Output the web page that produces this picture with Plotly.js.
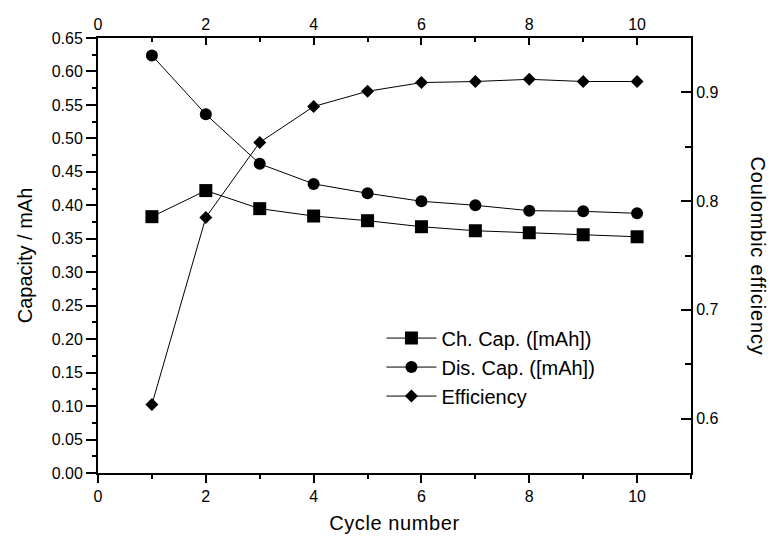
<!DOCTYPE html>
<html><head><meta charset="utf-8">
<script src="https://cdn.plot.ly/plotly-3.0.1.min.js"></script>
<style>
html,body{margin:0;padding:0;background:#fff}
#chart{width:771px;height:540px}
#chart .annotation-text{letter-spacing:0.8px}
#chart .xtitle{letter-spacing:0.6px}
</style>
</head><body><div id="chart"></div>
<script>
const cycles = [1, 2, 3, 4, 5, 6, 7, 8, 9, 10];
const chargeCap = [0.383, 0.422, 0.395, 0.384, 0.377, 0.368, 0.362, 0.359, 0.356, 0.353];
const dischargeCap = [0.624, 0.536, 0.462, 0.432, 0.418, 0.406, 0.400, 0.392, 0.391, 0.388];
const efficiency = [0.613, 0.785, 0.854, 0.887, 0.901, 0.909, 0.910, 0.912, 0.910, 0.910];
const seriesNames = ['Ch. Cap. ([mAh])', 'Dis. Cap. ([mAh])', 'Efficiency'];
const xTitle = 'Cycle number';
const yTitle = 'Capacity / mAh';
const y2Title = 'Coulombic efficiency';

const FONT = 'Arial, "Liberation Sans", sans-serif';
const lineStyle = {color: '#000', width: 1};

const traces = [
  {x: cycles, y: chargeCap, name: seriesNames[0], type: 'scatter', mode: 'lines+markers',
   line: lineStyle, marker: {symbol: 'square', size: 13, color: '#000'}, xaxis: 'x', yaxis: 'y'},
  {x: cycles, y: dischargeCap, name: seriesNames[1], type: 'scatter', mode: 'lines+markers',
   line: lineStyle, marker: {symbol: 'circle', size: 12, color: '#000'}, xaxis: 'x', yaxis: 'y'},
  {x: cycles, y: efficiency, name: seriesNames[2], type: 'scatter', mode: 'lines+markers',
   line: lineStyle, marker: {symbol: 'diamond', size: 10, color: '#000'}, xaxis: 'x2', yaxis: 'y2'}
];

const axisCommon = {showgrid: false, zeroline: false, showline: true, linecolor: '#000', linewidth: 2,
  tickcolor: '#000', tickwidth: 2, tickfont: {family: FONT, size: 16, color: '#000'}};

const layout = {
  width: 771, height: 540,
  margin: {l: 98, r: 80, t: 38, b: 67},
  paper_bgcolor: '#fff', plot_bgcolor: '#fff',
  font: {family: FONT, color: '#000'},
  showlegend: true,
  legend: {x: 0.478, y: 0.355, xanchor: 'left', yanchor: 'top', bgcolor: 'rgba(0,0,0,0)',
    font: {family: FONT, size: 20, color: '#000'}, itemwidth: 50},
  xaxis: Object.assign({}, axisCommon, {range: [0, 11], tick0: 0, dtick: 2, ticks: 'outside', ticklen: 8,
    minor: {dtick: 1, ticks: 'outside', ticklen: 4, tickwidth: 2, tickcolor: '#000'},
    title: {text: xTitle, font: {family: FONT, size: 20, color: '#000'}, standoff: 12}}),
  xaxis2: Object.assign({}, axisCommon, {range: [0, 11], tick0: 0, dtick: 2, ticks: 'inside', ticklen: 7,
    overlaying: 'x', side: 'top', anchor: 'y',
    minor: {dtick: 1, ticks: 'inside', ticklen: 4, tickwidth: 2, tickcolor: '#000'}}),
  yaxis: Object.assign({}, axisCommon, {range: [0, 0.65], tick0: 0, dtick: 0.05, tickformat: '.2f',
    ticks: 'outside', ticklen: 10,
    minor: {dtick: 0.025, ticks: 'outside', ticklen: 4, tickwidth: 2, tickcolor: '#000'},
    title: {text: yTitle, font: {family: FONT, size: 20, color: '#000'}, standoff: 14}}),
  yaxis2: Object.assign({}, axisCommon, {range: [0.55, 0.95], tick0: 0, dtick: 0.1, tickformat: '.1f',
    overlaying: 'y', side: 'right', anchor: 'x2', ticks: 'inside', ticklen: 10,
    minor: {dtick: 0.05, ticks: 'inside', ticklen: 6, tickwidth: 2, tickcolor: '#000'}}),
  annotations: [{text: y2Title, xref: 'paper', yref: 'paper', x: 1.113, y: 0.5, xanchor: 'center', yanchor: 'middle',
    textangle: 90, showarrow: false, font: {family: FONT, size: 20, color: '#000'}}]
};

Plotly.newPlot('chart', traces, layout, {displayModeBar: false, responsive: false});
</script>
</body></html>
